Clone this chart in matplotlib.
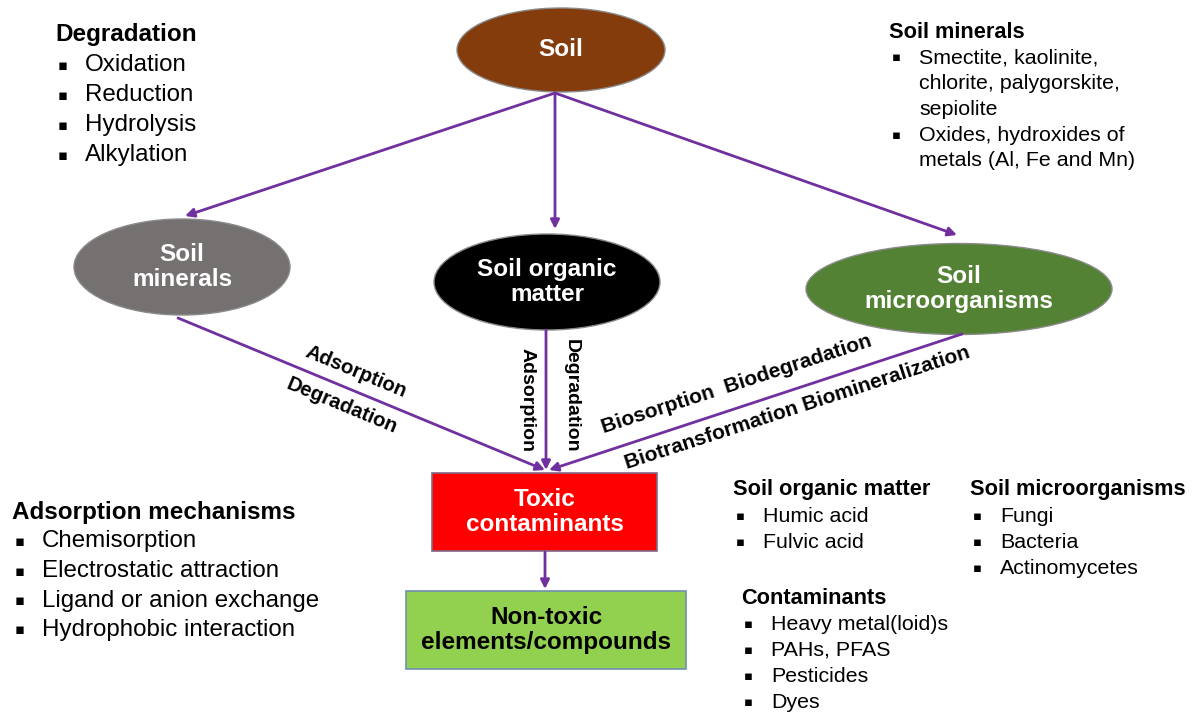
import matplotlib.pyplot as plt
from matplotlib.patches import Ellipse, Rectangle

plt.rcParams['font.family'] = ['Liberation Sans', 'DejaVu Sans']

# node labels
soil_label = "Soil"
child_labels = ["Soil\nminerals", "Soil organic\nmatter", "Soil\nmicroorganisms"]
toxic_label = "Toxic\ncontaminants"
nontoxic_label = "Non-toxic\nelements/compounds"

# process labels on the arrows
minerals_proc = ["Adsorption", "Degradation"]
som_proc = ["Adsorption", "Degradation"]
micro_proc = ["Biosorption  Biodegradation", "Biotransformation Biomineralization"]

# side lists
degradation_items = ["Oxidation", "Reduction", "Hydrolysis", "Alkylation"]
minerals_items = ["Smectite, kaolinite,\nchlorite, palygorskite,\nsepiolite",
                  "Oxides, hydroxides of\nmetals (Al, Fe and Mn)"]
adsorption_items = ["Chemisorption", "Electrostatic attraction",
                    "Ligand or anion exchange", "Hydrophobic interaction"]
som_items = ["Humic acid", "Fulvic acid"]
micro_items = ["Fungi", "Bacteria", "Actinomycetes"]
contaminant_items = ["Heavy metal(loid)s", "PAHs, PFAS", "Pesticides", "Dyes"]

purple = "#7030A0"

fig = plt.figure(figsize=(11.95, 7.13), dpi=100)
ax = fig.add_axes([0, 0, 1, 1])
ax.set_xlim(0, 1195)
ax.set_ylim(713, 0)
ax.axis("off")


def arrow(x0, y0, x1, y1):
    ax.annotate("", xy=(x1, y1), xytext=(x0, y0),
                arrowprops=dict(arrowstyle="-|>", color=purple, lw=2,
                                mutation_scale=13, shrinkA=0, shrinkB=0))


def ellipse(cx, cy, w, h, color, text, tcolor="white"):
    ax.add_patch(Ellipse((cx, cy), w, h, facecolor=color, edgecolor="#8a8a8a", lw=1))
    ax.text(cx, cy, text, ha="center", va="center", color=tcolor,
            fontsize=17.5, fontweight="bold", linespacing=1.15)


#title in bold, then a bullet per line (wrapped items keep one bullet)
def bullet_list(x, y, title, items, size, step, title_size, bsize):
    ax.text(x, y, title, ha="left", va="center", fontsize=title_size, fontweight="bold")
    yy = y + step
    for it in items:
        ax.text(x + 3, yy, "\u25aa", ha="left", va="center", fontsize=bsize,
                family=["DejaVu Sans"])
        for line in it.split("\n"):
            ax.text(x + 30, yy, line, ha="left", va="center", fontsize=size)
            yy += step


def along(x, y, text, rot, size):
    ax.text(x, y, text, rotation=rot, ha="center", va="center",
            rotation_mode="anchor", fontsize=size, fontweight="bold")


# arrows from soil
arrow(555, 93, 185, 216)
arrow(555, 93, 555, 229)
arrow(555, 93, 957, 235)
# arrows to toxic contaminants
arrow(178, 318, 545, 470)
arrow(546, 330, 546, 470)
arrow(962, 334, 549, 470)
arrow(545, 552, 545, 589)

ellipse(561, 50, 208, 84, "#843C0C", soil_label)
ellipse(182, 267, 216, 96, "#767171", child_labels[0])
ellipse(547, 282, 226, 96, "black", child_labels[1])
ellipse(959, 289, 306, 91, "#548235", child_labels[2])

ax.add_patch(Rectangle((432, 473), 225, 78, facecolor="#FF0000", edgecolor="#7F6A8A", lw=1.2))
ax.text(544.5, 512, toxic_label, ha="center", va="center", color="white",
        fontsize=17.5, fontweight="bold", linespacing=1.15)
ax.add_patch(Rectangle((406, 591), 280, 78, facecolor="#92D050", edgecolor="#6F8FAF", lw=1.2))
ax.text(546, 630, nontoxic_label, ha="center", va="center", color="black",
        fontsize=17.5, fontweight="bold", linespacing=1.15)

# labels along arrows
along(356, 372, minerals_proc[0], -22.5, 14.6)
along(342, 406, minerals_proc[1], -22.5, 14.6)
along(527, 400, som_proc[0], -90, 14)
along(571, 396, som_proc[1], -90, 14)
along(737, 384, micro_proc[0], 18, 15)
along(797, 408, micro_proc[1], 18, 15)

# side text blocks
bullet_list(55, 35, "Degradation", degradation_items, 17.4, 30, 17.5, 10.5)
bullet_list(12, 512, "Adsorption mechanisms", adsorption_items, 17.4, 29.5, 17.5, 10.5)
bullet_list(889, 32, "Soil minerals", minerals_items, 15.4, 25.8, 15.7, 9.5)
bullet_list(733, 490, "Soil organic matter", som_items, 15.4, 26, 15.7, 9.5)
bullet_list(970, 490, "Soil microorganisms", micro_items, 15.4, 26, 15.7, 9.5)
bullet_list(741, 598, "Contaminants", contaminant_items, 15.4, 26, 15.7, 9.5)

fig.savefig("out.png", dpi=100, facecolor="white")
